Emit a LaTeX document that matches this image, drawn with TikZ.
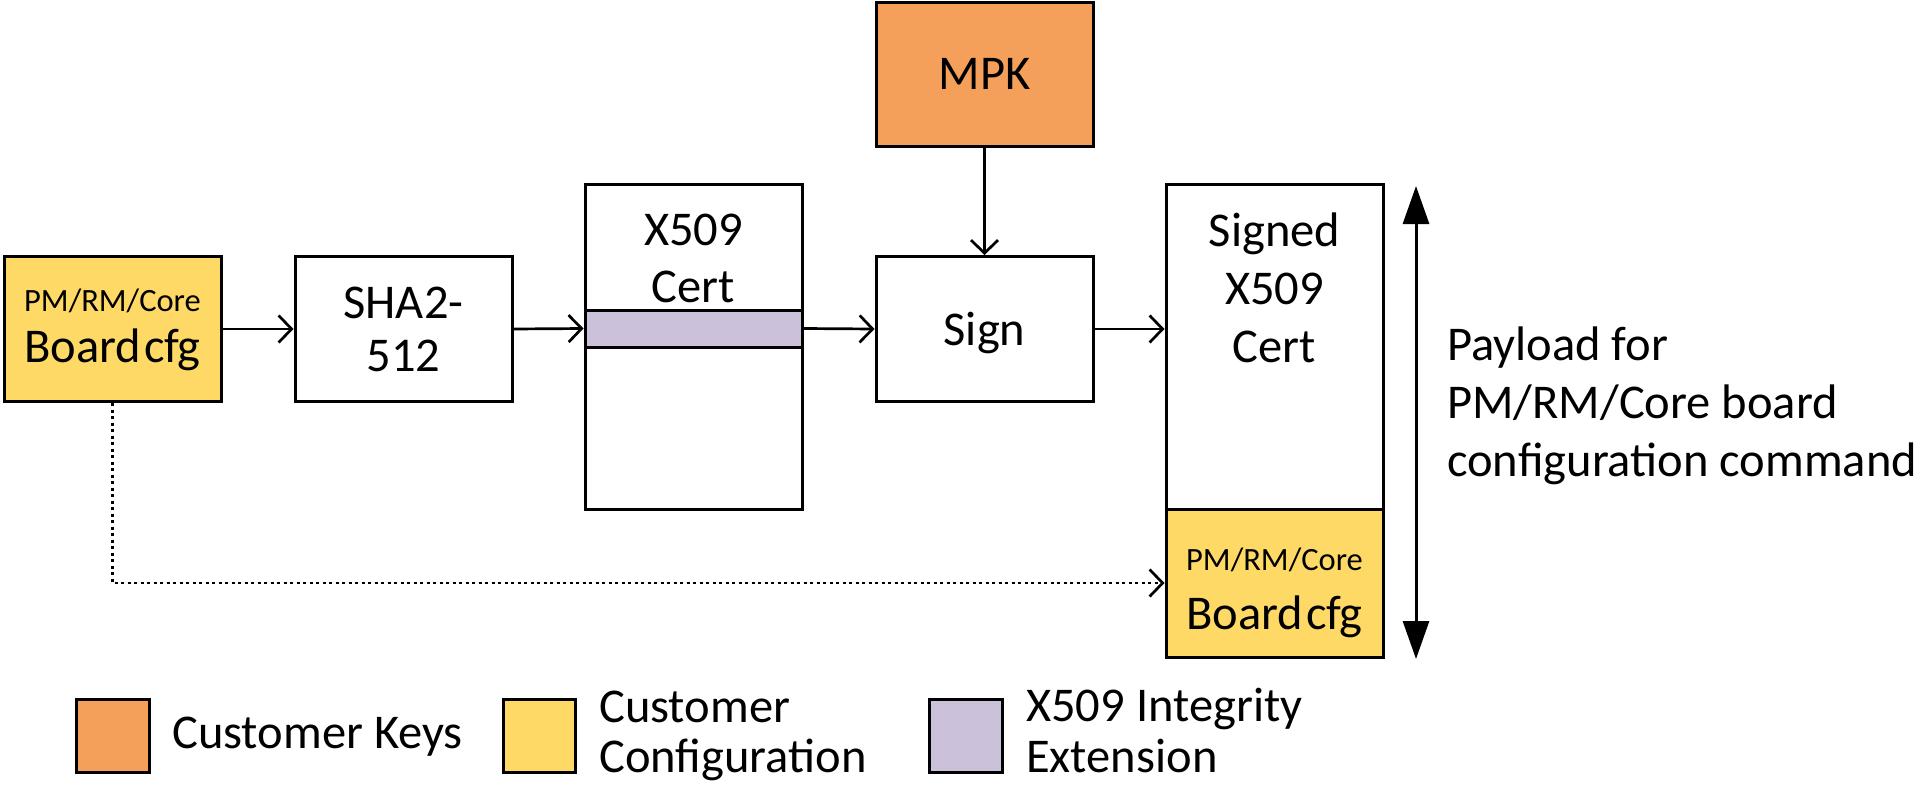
\documentclass[tikz,border=0pt]{standalone}
\usepackage{fontspec}
\setmainfont{Carlito}
\usetikzlibrary{arrows.meta}
\definecolor{keyor}{RGB}{244,160,90}
\definecolor{cfgyel}{RGB}{255,217,102}
\definecolor{extpur}{RGB}{204,193,218}
\begin{document}
\begin{tikzpicture}[x=1pt,y=-1pt,
  box/.style={draw,line width=3pt,rectangle,inner sep=0pt,minimum width=217pt},
  conn/.style={line width=2.7pt,-{Straight Barb[length=13pt,width=27pt]}},
  big/.style={font=\fontsize{48.5}{55}\selectfont, inner sep=0pt},
  small/.style={font=\fontsize{32.5}{36}\selectfont, inner sep=0pt}]
\useasboundingbox (0,0) rectangle (1920,787);
% boxes
\node[box,fill=cfgyel,minimum height=145pt] (bcfg) at (112.5,329) {};
\node[box,minimum height=145pt] (sha) at (403.5,329) {};
\node[box,minimum height=325pt] (x509) at (693.5,346.5) {};
\node[box,fill=extpur,minimum height=37pt] (ext) at (693.5,328.5) {};
\node[box,minimum height=145pt] (sign) at (984.5,329) {};
\node[box,fill=keyor,minimum height=144pt] (mpk) at (984.5,74) {};
\node[box,minimum height=325pt] (signed) at (1274.5,346.5) {};
\node[box,fill=cfgyel,minimum height=148pt] (sigcfg) at (1274.5,583) {};
% texts
\node[small,anchor=base] (bcfgA) at (112.5,311) {PM/RM/Core};
\node[big,anchor=base] (bcfgB) at (112.5,362) {Board\kern3pt cfg};
\node[big,align=center,font=\fontsize{48.5}{53}\selectfont] (shaT) at (sha.center) {SHA2-\\512};
\node[big,align=center,font=\fontsize{48.5}{57}\selectfont] (x509T) at (693.5,258.5) {X509\\Cert};
\node[big,anchor=base] (signT) at (984.5,345) {Sign};
\node[big,anchor=base] (mpkT) at (984.5,89) {MPK};
\node[big,align=center,font=\fontsize{48.5}{58}\selectfont] (signedT) at (1274.5,288) {Signed\\X509\\Cert};
\node[small,anchor=base] (sigA) at (1274.5,570) {PM/RM/Core};
\node[big,anchor=base] (sigB) at (1274.5,629) {Board\kern3pt cfg};
% connectors
\draw[conn] (bcfg.east) -- (sha.west);
\draw[conn] (sha.east) -- (ext.west);
\draw[conn] (ext.east) -- (sign.west);
\draw[conn] (mpk.south) -- (sign.north);
\draw[conn] (sign.east) -- (sign.east -| signed.west);
\draw[conn, dash pattern=on 3pt off 3.5pt] (bcfg.south) |- (sigcfg.west);
% payload arrow
\coordinate (payT) at (1416,186);
\coordinate (payB) at (1416,659);
\draw[line width=3pt,{Triangle[length=38pt,width=26pt]}-{Triangle[length=38pt,width=26pt]}] (payT) -- (payB);
\node[big,anchor=base west] (pay1) at (1447,360) {Payload for};
\node[big,anchor=base west] (pay2) at (1447,418) {PM/RM/Core board};
\node[big,anchor=base west] (pay3) at (1447,476) {configuration command};
% legend
\node[box,fill=keyor,minimum width=73pt,minimum height=73pt] (lg1) at (113,735.5) {};
\node[big,anchor=base west] (lg1T) at (172,748) {Customer Keys};
\node[box,fill=cfgyel,minimum width=72pt,minimum height=73pt] (lg2) at (539,735.5) {};
\node[big,anchor=base west] (lg2a) at (599,722) {Customer};
\node[big,anchor=base west] (lg2b) at (599,772) {Configuration};
\node[box,fill=extpur,minimum width=73pt,minimum height=73pt] (lg3) at (965.5,735.5) {};
\node[big,anchor=base west] (lg3a) at (1026,721) {X509 Integrity};
\node[big,anchor=base west] (lg3b) at (1026,772) {Extension};
\end{tikzpicture}
\end{document}
